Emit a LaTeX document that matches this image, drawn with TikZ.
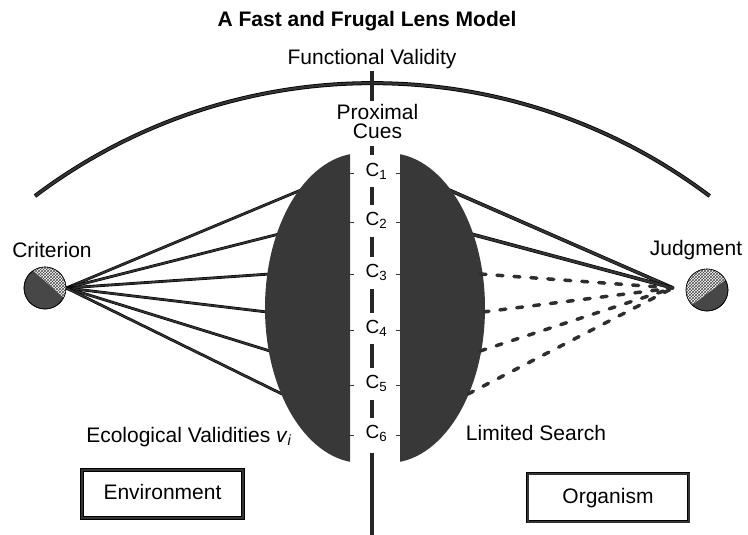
\documentclass[tikz,border=0pt]{standalone}
\usepackage{fontspec}
\setmainfont{Liberation Sans}
\usetikzlibrary{patterns}

\begin{document}
\begin{tikzpicture}[x = 1pt, y = -1pt,
                        rim/.style = {draw = black, line width = 0.6pt, double = black!80, double distance = 1.6pt},
                        spine/.style = {draw = black!85, line width = 3.2pt},
                        lensfill/.style = {fill = black!78},
                        ball/.style = {circle, draw = black, line width = 0.6pt, fill = black!72, minimum size = 42pt, inner sep = 0pt},
                        hatch/.style = {fill = white, postaction = {pattern = crosshatch, pattern color = black!70}},
                        words/.style = {font = \fontsize{21}{21}\selectfont, inner sep = 0pt, anchor = base},
                        cue/.style = {font = \fontsize{19}{19}\selectfont, inner sep = 0pt, anchor = base west},
                        realm/.style = {rim, line width = 0.8pt, double distance = 2pt, minimum width = 161pt, minimum height = 48pt,
                                        font = \fontsize{21}{21}\selectfont, text height = 15pt, text depth = 4pt},
                        search/.style = {line width = 3.5pt, black!82, line cap = round, dash pattern = on 6pt off 11pt}]
      \useasboundingbox (0, 0) rectangle (748, 535);
      % functional validity arc
      \draw [rim, line width = 0.8pt, double distance = 2.4pt] (35, 196) arc [start angle = -127, end angle = -53, radius = 560.5];
      \node [ball] (crit) at (45, 288){};
      \node [ball] (judg) at (707, 290){};
      \path [hatch] (crit.center) ++(-124:21) arc [start angle = -124, end angle = 27, radius = 21] -- cycle;
      \path [hatch] (judg.center) ++(135:21) arc [start angle = 135, end angle = 331, radius = 21] -- cycle;
      \draw [line width = 0.6pt] (crit.center) circle [radius = 21];
      \draw [line width = 0.6pt] (judg.center) circle [radius = 21];
      \coordinate (jin) at (673, 288);
      \coordinate (top) at (372, 68);
      \coordinate (bot) at (372, 535);
      \coordinate (edgel) at (350, 0);
      \coordinate (edger) at (400, 0);
      % points on the lens rims
      \foreach \n/\y/\xl/\xr in {1/190/301/449, 2/234/279/471, 3/274/270/480, 4/312/267/483, 5/351/270/480, 6/394/282/468}{
        \coordinate (l\n) at (\xl, \y);
        \coordinate (r\n) at (\xr, \y);
      }
      \foreach \n in {1, ..., 6}
        \draw [rim] (crit.east) -- (l\n);
      \foreach \n in {1, 2}
        \draw [rim, double distance = 2.4pt] (r\n) -- (jin);
      % the lens
      \begin{scope}
        \clip (0, 0) rectangle (350, 535);
        \fill [lensfill] (362, 308) ellipse [x radius = 97, y radius = 155];
      \end{scope}
      \begin{scope}
        \clip (400, 0) rectangle (748, 535);
        \fill [lensfill] (388, 308) ellipse [x radius = 97, y radius = 155];
      \end{scope}
      \foreach \n in {3, ..., 6}
        \draw [search] (r\n) -- (jin);
      % labels
      \node [words, font = \bfseries\fontsize{21}{21}\selectfont] (title) at (367, 27){A Fast and Frugal Lens Model};
      \node [words] (fv) at (372, 65){Functional Validity};
      \node [words] (prox) at (377.5, 120){Proximal};
      \node [words] (cues) at (377.5, 139){Cues};
      \node [words] (critlab) at (52, 257){Criterion};
      \node [words] (judglab) at (696, 255){Judgment};
      \node [words] (eco) at (189, 442){Ecological Validities \textit{v}\textsubscript{\textit{i}}};
      \node [words] (limit) at (536, 440){Limited Search};
      \node [realm] (env) at (162.5, 494){Environment};
      \node [realm] (org) at (608, 497.5){Organism};
      \foreach \n/\y in {1/176, 2/225, 3/277, 4/333, 5/388, 6/438}
        \node [cue] (c\n) at (365.5, \y){C\textsubscript{\n}};
      % the dashed middle line
      \draw [spine, shorten <= 1pt, shorten >= 4pt] (fv.south -| top) -- (prox.north -| top);
      \draw [spine, shorten <= 7pt, shorten >= 8pt] (cues.south -| top) -- (c1.north -| top);
      \foreach \n/\m in {1/2, 2/3, 3/4, 4/5, 5/6}
        \draw [spine, shorten <= 8pt, shorten >= 7pt] (c\n.south -| top) -- (c\m.north -| top);
      \draw [spine, shorten <= 11pt] (c6.south -| top) -- (bot);
      \foreach \n in {1, ..., 6}{
        \draw [line width = 1.4pt, black!78] (c\n.mid -| edgel) -- ++(4, 0);
        \draw [line width = 1.4pt, black!78] (c\n.mid -| edger) -- ++(-4, 0);
      }
    \end{tikzpicture}
\end{document}
